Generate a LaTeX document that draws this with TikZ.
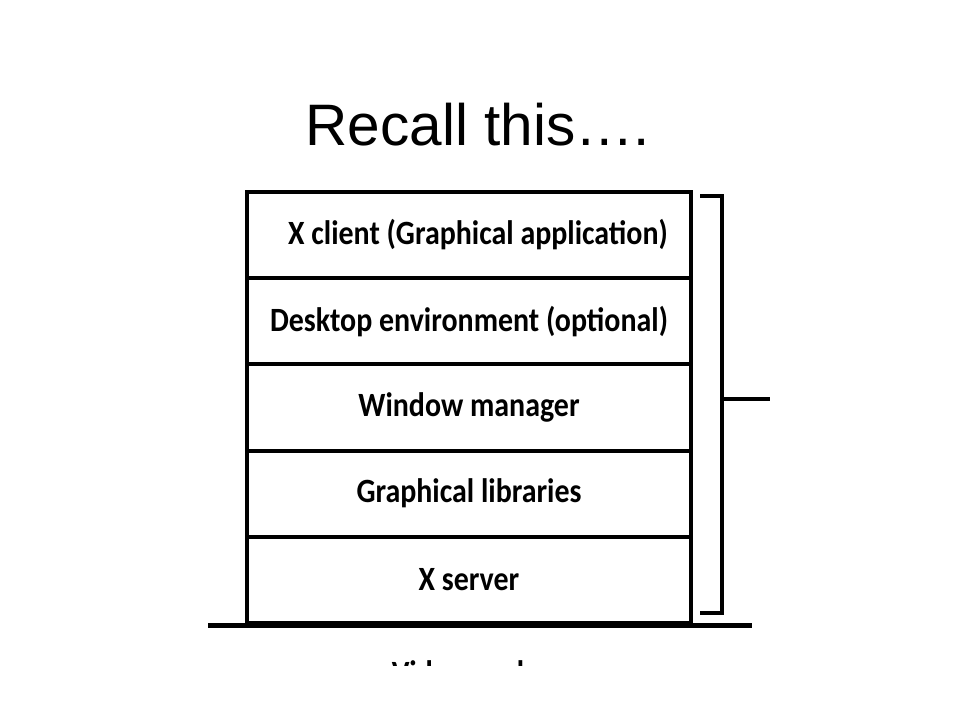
\documentclass[tikz,border=0pt]{standalone}
\usepackage{fontspec}
\setmainfont{Carlito}[FakeStretch=0.88]
\newfontfamily\titlefont{Liberation Sans}
\usetikzlibrary{positioning}

\tikzset{
    layer/.style={draw, line width=4pt, minimum width=444pt, minimum height=86.2pt,
        inner sep=0pt, outer sep=0pt, font=\bfseries\fontsize{34}{40}\selectfont},
    rule/.style={line width=4pt},
}

\begin{document}
\begin{tikzpicture}[x=1pt, y=-1pt]
\useasboundingbox (0,0) rectangle (960,720);
\begin{scope}
    % Title
    \node (title) at (478,125) {\titlefont\fontsize{58.5}{70}\selectfont Recall this….};

    % Define layers
    \node[layer] (client) at (469,235) {\hspace*{18pt}X client (Graphical application)};
    \node[layer, below=0pt of client] (desktop) {Desktop environment (optional)};
    \node[layer, below=0pt of desktop] (wm) {Window manager};
    \node[layer, below=0pt of wm] (libs) {Graphical libraries};
    \node[layer, below=0pt of libs] (xserver) {X server};

    % Bracket and base line
    \coordinate (brtop) at (700,196);
    \coordinate (brbot) at (700,613);
    \coordinate (brmid) at (722,399);
    \coordinate (tick) at (770,399);
    \coordinate (baseL) at (208,625);
    \coordinate (baseR) at (752,625);

    \draw[rule] (brtop) -- ++(22,0) |- (brbot);
    \draw[rule] (brmid) -- (tick);
    \draw[line width=5pt] (baseL) -- (baseR);

    % Cut-off caption
    \begin{scope}
        \clip (300,650) rectangle (660,665);
        \node[font=\bfseries\fontsize{34}{40}\selectfont, anchor=base] (card) at (458,684) {Video card};
    \end{scope}
\end{scope}
\end{tikzpicture}
\end{document}
